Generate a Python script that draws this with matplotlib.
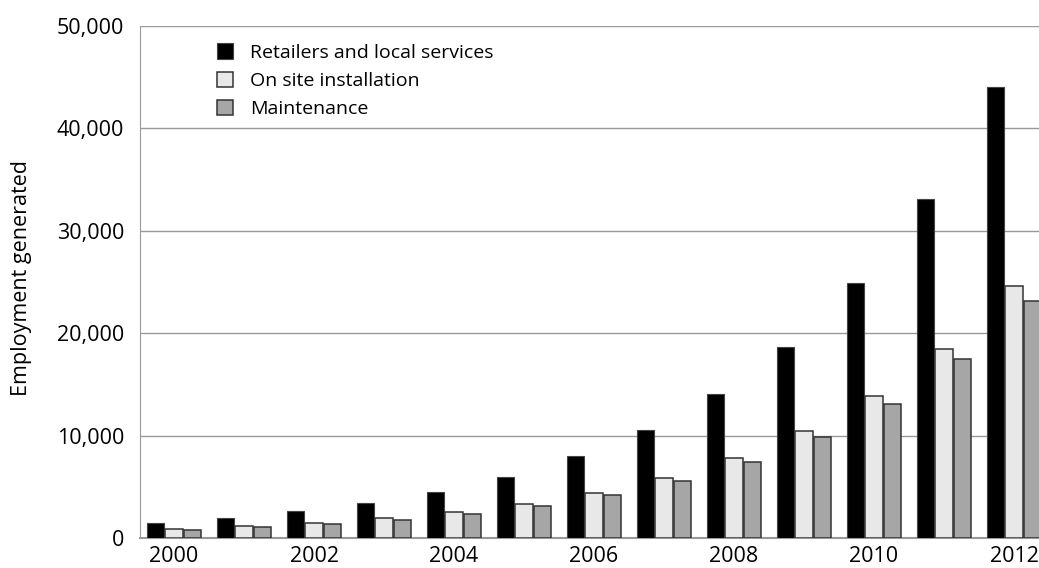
import numpy as np
import matplotlib
matplotlib.use("Agg")
import matplotlib.pyplot as plt

plt.rcParams['font.family'] = ['Open Sans', 'DejaVu Sans']

years = [2000, 2001, 2002, 2003, 2004, 2005, 2006, 2007, 2008, 2009, 2010, 2011, 2012]
retailers = [1500, 1980, 2600, 3430, 4520, 5990, 7970, 10570, 14060, 18650, 24880, 33100, 44070]
installation = [850, 1140, 1460, 1930, 2510, 3350, 4430, 5890, 7840, 10450, 13910, 18490, 24640]
maintenance = [780, 1075, 1400, 1800, 2370, 3160, 4200, 5600, 7420, 9830, 13090, 17450, 23170]
series_names = ["Retailers and local services", "On site installation", "Maintenance"]
tick_years = [2000, 2002, 2004, 2006, 2008, 2010, 2012]

fig = plt.figure(figsize=(10.39, 5.68), dpi=100)
ax = fig.add_axes([139.5/1039, 1-538/568, 1-139.5/1039, 512/568])

x = np.arange(len(years))
w = 0.245
off = 0.266
ax.bar(x - off, retailers, w, color='black', edgecolor='#444444', linewidth=0.8, label=series_names[0], zorder=3)
ax.bar(x, installation, w, color='#e8e8e8', edgecolor='#333333', linewidth=1.1, label=series_names[1], zorder=3)
ax.bar(x + off, maintenance, w, color='#a6a6a6', edgecolor='#333333', linewidth=1.1, label=series_names[2], zorder=3)

ax.set_xlim(-0.493, 12.357)
ax.set_ylim(0, 50000)
ax.set_yticks(range(0, 50001, 10000))
ax.set_yticklabels([f"{v:,}" for v in range(0, 50001, 10000)])
ax.set_xticks([years.index(y) for y in tick_years])
ax.set_xticklabels([str(y) for y in tick_years])
ax.tick_params(axis='both', length=0, labelsize=15.5)
ax.tick_params(axis='y', pad=11)
ax.tick_params(axis='x', pad=6)
ax.grid(axis='y', color='#999999', linewidth=1.0, zorder=0)
ax.set_axisbelow(True)
for s in ['top', 'right']:
    ax.spines[s].set_visible(False)
ax.spines['left'].set_color('#999999')
ax.spines['bottom'].set_color('#999999')
ax.spines['bottom'].set_linewidth(1.5)

fig.text(22/1039, 1-278/568, "Employment generated", rotation=90, ha='center', va='center', fontsize=15.5)

ax.legend(loc='upper left', bbox_to_anchor=(0.086, 0.966), frameon=False, fontsize=14,
          handlelength=0.85, handleheight=0.85, handletextpad=0.85, labelspacing=0.5,
          borderpad=0, borderaxespad=0)

fig.savefig("out.png", dpi=100)
